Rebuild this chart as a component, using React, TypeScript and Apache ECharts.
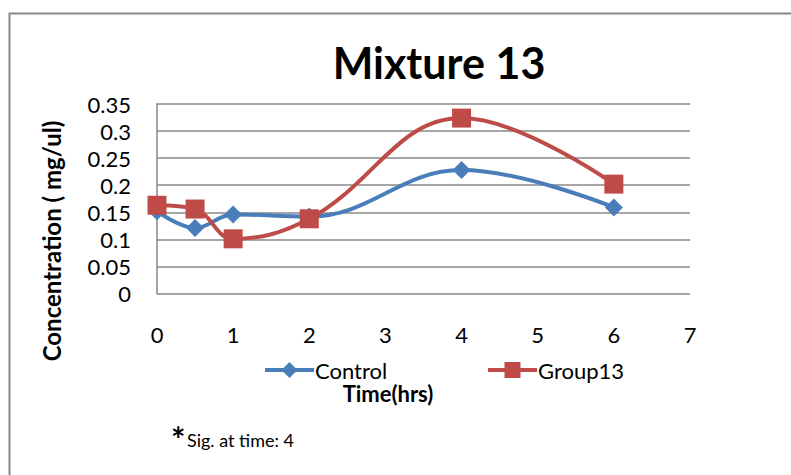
import React, { useEffect, useRef } from "react";
import * as echarts from "echarts";

const timeHrs = [0, 0.5, 1, 2, 4, 6];
const controlValues = [0.152, 0.121, 0.146, 0.142, 0.228, 0.159];
const group13Values = [0.163, 0.156, 0.101, 0.138, 0.324, 0.202];
const seriesNames = ["Control", "Group13"];
const titleText = "Mixture 13";
const yAxisTitle = "Concentration ( mg/ul)";
const xAxisTitle = "Time(hrs)";
const footnote = "Sig. at time: 4";

const FONT = "Lato, 'Open Sans', sans-serif";

export default function App() {
  const ref = useRef<HTMLDivElement>(null);
  useEffect(() => {
    if (!ref.current) return;
    const chart = echarts.init(ref.current, null, { renderer: "svg" });
    const toPairs = (vals: number[]) => timeHrs.map((t, i) => [t, vals[i]]);
    const legendCommon = {
      top: 359,
      padding: 0,
      itemWidth: 49,
      itemHeight: 20,
      itemGap: 4,
      lineStyle: { width: 4 },
      textStyle: { fontSize: 22, color: "#000", fontFamily: FONT, padding: [0, 0, 0, -4] },
    };
    chart.setOption({
      animation: false,
      backgroundColor: "#ffffff",
      textStyle: { fontFamily: FONT },
      title: {
        text: titleText,
        left: 434,
        top: 36,
        textAlign: "center",
        textStyle: { fontSize: 43, fontWeight: "bold", color: "#000", fontFamily: FONT },
      },
      grid: { left: 157, right: 101, top: 104, bottom: 181.5 },
      xAxis: {
        type: "value",
        min: 0,
        max: 7,
        interval: 1,
        axisLine: { show: false },
        axisTick: { show: false },
        splitLine: { show: false },
        axisLabel: { color: "#000", fontSize: 22, margin: 30, fontFamily: FONT },
      },
      yAxis: {
        type: "value",
        min: 0,
        max: 0.35,
        interval: 0.05,
        axisLine: { show: true, lineStyle: { color: "#888", width: 1.5 } },
        axisTick: { show: false },
        splitLine: { show: true, lineStyle: { color: "#888", width: 1.5 } },
        axisLabel: {
          color: "#000",
          fontSize: 22,
          margin: 26,
          fontFamily: FONT,
          formatter: (v: number) => String(parseFloat(v.toFixed(2))),
        },
      },
      legend: [
        { ...legendCommon, data: [seriesNames[0]], left: 263 },
        { ...legendCommon, data: [seriesNames[1]], left: 486 },
      ],
      series: [
        {
          name: seriesNames[0],
          type: "line",
          data: toPairs(controlValues),
          smooth: 0.4,
          symbol: "diamond",
          symbolSize: 18,
          color: "#4a7ebb",
          lineStyle: { color: "#4a7ebb", width: 4 },
          itemStyle: { color: "#4a7ebb" },
          z: 2,
        },
        {
          name: seriesNames[1],
          type: "line",
          data: toPairs(group13Values),
          smooth: 0.4,
          symbol: "rect",
          symbolSize: 19,
          color: "#be4b48",
          lineStyle: { color: "#be4b48", width: 4 },
          itemStyle: { color: "#be4b48" },
          z: 3,
        },
      ],
      graphic: [
        {
          type: "rect",
          left: 7,
          top: 11,
          shape: { width: 900, height: 600 },
          style: { fill: "none", stroke: "#888", lineWidth: 2 },
          z: -1,
          silent: true,
        },
        {
          type: "text",
          x: 388,
          y: 393,
          style: {
            text: xAxisTitle,
            fontSize: 22,
            fontWeight: "bold",
            fill: "#000",
            fontFamily: FONT,
            textAlign: "center",
            textVerticalAlign: "middle",
          },
        },
        {
          type: "text",
          x: 51,
          y: 241,
          rotation: Math.PI / 2,
          style: {
            text: yAxisTitle,
            fontSize: 24,
            fontWeight: "bold",
            fill: "#000",
            fontFamily: FONT,
            textAlign: "center",
            textVerticalAlign: "middle",
          },
        },
        {
          type: "text",
          x: 171,
          y: 438,
          style: {
            text: "*",
            fontSize: 34,
            fontWeight: "bold",
            fill: "#000",
            fontFamily: FONT,
            textAlign: "left",
            textVerticalAlign: "middle",
          },
        },
        {
          type: "text",
          x: 187,
          y: 440,
          style: {
            text: footnote,
            fontSize: 18,
            fill: "#000",
            fontFamily: FONT,
            textAlign: "left",
            textVerticalAlign: "middle",
          },
        },
      ],
    });
    return () => chart.dispose();
  }, []);
  return (
    <div
      ref={ref}
      style={{ position: "fixed", left: 0, top: 0, width: 791, height: 475 }}
    />
  );
}
